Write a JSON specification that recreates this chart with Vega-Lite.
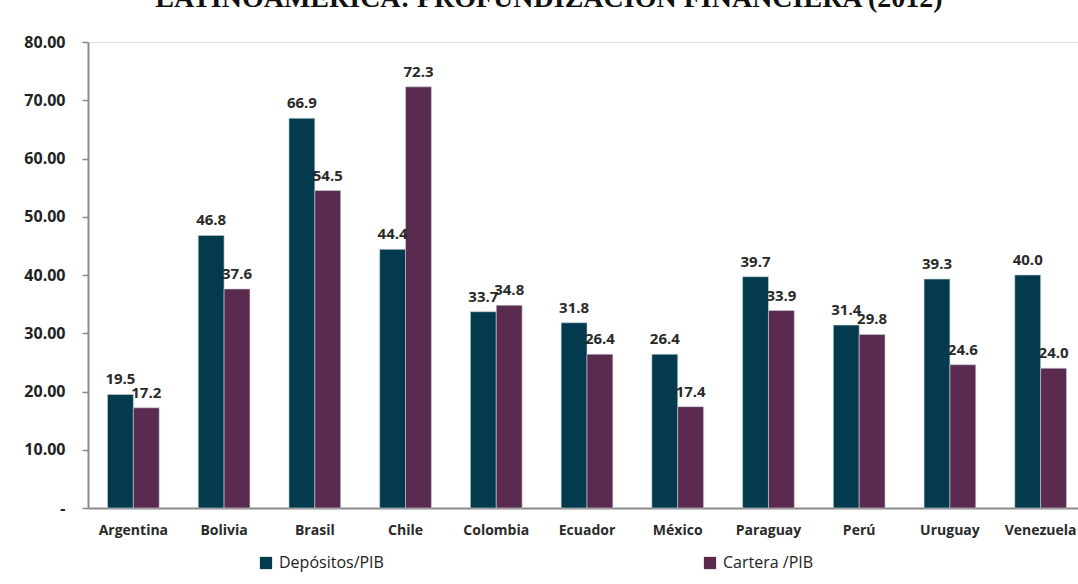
{
  "$schema": "https://vega.github.io/schema/vega-lite/v6.json",
  "autosize": {"type": "none"},
  "width": 990,
  "height": 466,
  "padding": {"left": 88, "top": 42, "right": 0, "bottom": 76},
  "background": "white",
  "title": {
    "text": "LATINOAMÉRICA: PROFUNDIZACIÓN FINANCIERA (2012)",
    "font": "Liberation Serif",
    "fontSize": 28,
    "fontWeight": "bold",
    "color": "#111",
    "anchor": "middle",
    "dx": -34,
    "offset": 21
  },
  "data": {
    "values": [
      {"pais": "Argentina", "serie": "Depósitos/PIB", "valor": 19.5},
      {"pais": "Argentina", "serie": "Cartera /PIB", "valor": 17.2},
      {"pais": "Bolivia", "serie": "Depósitos/PIB", "valor": 46.8},
      {"pais": "Bolivia", "serie": "Cartera /PIB", "valor": 37.6},
      {"pais": "Brasil", "serie": "Depósitos/PIB", "valor": 66.9},
      {"pais": "Brasil", "serie": "Cartera /PIB", "valor": 54.5},
      {"pais": "Chile", "serie": "Depósitos/PIB", "valor": 44.4},
      {"pais": "Chile", "serie": "Cartera /PIB", "valor": 72.3},
      {"pais": "Colombia", "serie": "Depósitos/PIB", "valor": 33.7},
      {"pais": "Colombia", "serie": "Cartera /PIB", "valor": 34.8},
      {"pais": "Ecuador", "serie": "Depósitos/PIB", "valor": 31.8},
      {"pais": "Ecuador", "serie": "Cartera /PIB", "valor": 26.4},
      {"pais": "México", "serie": "Depósitos/PIB", "valor": 26.4},
      {"pais": "México", "serie": "Cartera /PIB", "valor": 17.4},
      {"pais": "Paraguay", "serie": "Depósitos/PIB", "valor": 39.7},
      {"pais": "Paraguay", "serie": "Cartera /PIB", "valor": 33.9},
      {"pais": "Perú", "serie": "Depósitos/PIB", "valor": 31.4},
      {"pais": "Perú", "serie": "Cartera /PIB", "valor": 29.8},
      {"pais": "Uruguay", "serie": "Depósitos/PIB", "valor": 39.3},
      {"pais": "Uruguay", "serie": "Cartera /PIB", "valor": 24.6},
      {"pais": "Venezuela", "serie": "Depósitos/PIB", "valor": 40.0},
      {"pais": "Venezuela", "serie": "Cartera /PIB", "valor": 24.0}
    ]
  },
  "encoding": {
    "x": {
      "field": "pais",
      "type": "nominal",
      "sort": null,
      "scale": {"range": [0, 998], "paddingInner": 0.43, "paddingOuter": 0.215},
      "axis": {
        "title": null,
        "labelAngle": 0,
        "labelFont": "Open Sans",
        "labelFontSize": 14,
        "labelFontWeight": "bold",
        "labelColor": "#2a2a2a",
        "labelPadding": 15,
        "labelOverlap": false,
        "ticks": false,
        "domainColor": "#8a8a8a",
        "domainWidth": 2
      }
    },
    "xOffset": {
      "field": "serie",
      "type": "nominal",
      "sort": ["Depósitos/PIB", "Cartera /PIB"],
      "scale": {"paddingInner": 0, "paddingOuter": 0}
    },
    "y": {
      "field": "valor",
      "type": "quantitative",
      "scale": {"domain": [0, 80], "nice": false},
      "axis": {
        "title": null,
        "values": [0, 10, 20, 30, 40, 50, 60, 70, 80],
        "labelExpr": "datum.value == 0 ? '-' : format(datum.value, '.2f')",
        "labelFont": "Open Sans",
        "labelFontSize": 16,
        "labelFontWeight": "bold",
        "labelColor": "#222",
        "labelPadding": 17,
        "grid": false,
        "tickColor": "#8a8a8a",
        "tickSize": 6,
        "tickWidth": 1.5,
        "domainColor": "#8a8a8a",
        "domainWidth": 2
      }
    }
  },
  "layer": [
    {
      "mark": {"type": "bar", "stroke": "#c9d3d8", "strokeWidth": 0.6},
      "encoding": {
        "color": {
          "field": "serie",
          "type": "nominal",
          "sort": ["Depósitos/PIB", "Cartera /PIB"],
          "scale": {"domain": ["Depósitos/PIB", "Cartera /PIB"], "range": ["#033a4e", "#5a2a4f"]},
          "legend": {
            "title": null,
            "orient": "none",
            "legendX": 170,
            "legendY": 513,
            "direction": "horizontal",
            "symbolType": "square",
            "symbolSize": 150,
            "symbolStrokeWidth": 0,
            "labelFont": "Open Sans",
            "labelFontSize": 16,
            "labelColor": "#222",
            "labelOffset": 5,
            "columnPadding": 318
          }
        }
      }
    },
    {
      "mark": {"type": "text", "dy": -15, "font": "Open Sans", "fontSize": 15, "fontWeight": "bold", "color": "#2a2a2a"},
      "encoding": {
        "text": {"field": "valor", "type": "quantitative", "format": ".1f"}
      }
    }
  ]
}
